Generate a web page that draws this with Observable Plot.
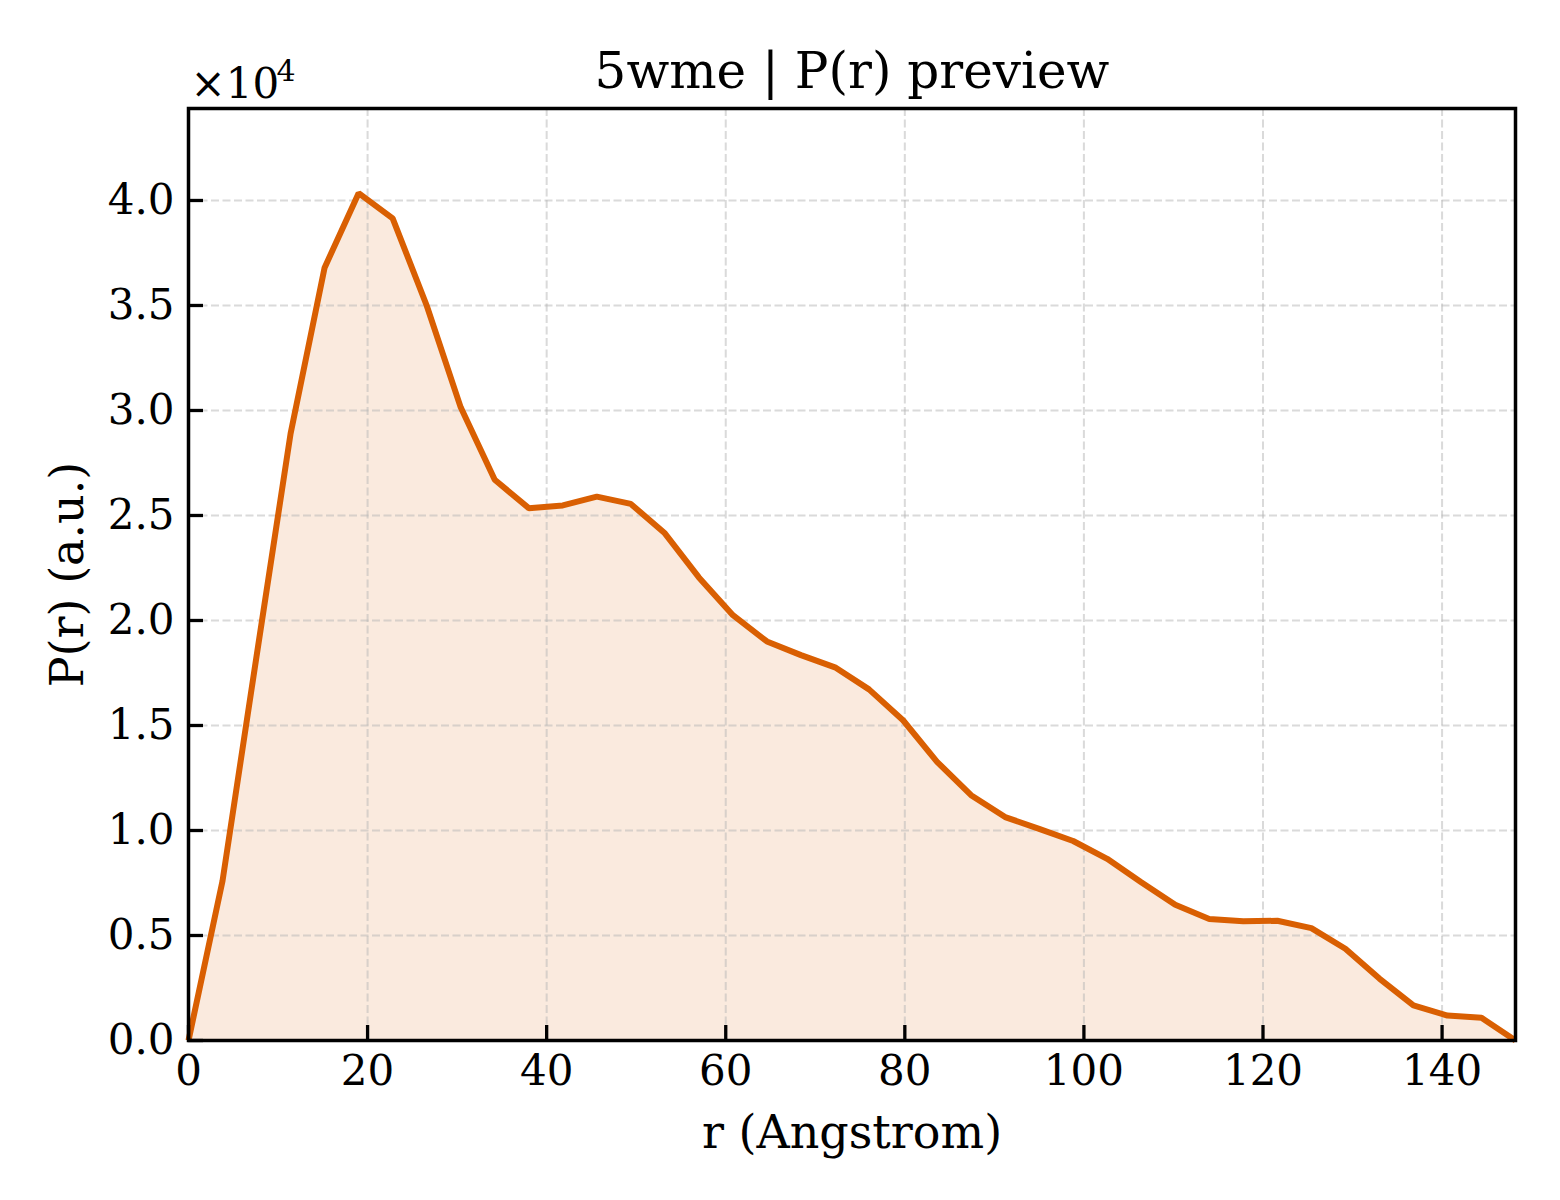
<!DOCTYPE html>
<html>
<head>
<meta charset="utf-8">
<script src="https://cdn.jsdelivr.net/npm/d3@7"></script>
<script src="https://cdn.jsdelivr.net/npm/@observablehq/plot@0.6"></script>
<style>
  html, body { margin: 0; padding: 0; background: white; }
  #chart svg { display: block; }
</style>
</head>
<body>
<div id="chart"></div>
<script>
// ---- data ----
const titleText = "5wme | P(r) preview";
const xLabel = "r (Angstrom)";
const yLabel = "P(r) (a.u.)";
const rValues = [0, 3.8, 7.6, 11.4, 15.2, 19.0, 22.8, 26.6, 30.4, 34.2, 38.0, 41.8, 45.6, 49.4, 53.2, 57.0, 60.8, 64.6, 68.4, 72.2, 76.0, 79.8, 83.6, 87.4, 91.2, 95.0, 98.8, 102.6, 106.4, 110.2, 114.0, 117.8, 121.6, 125.4, 129.2, 133.0, 136.8, 140.6, 144.4, 148.2];
const prValues = [0, 7600, 18300, 28900, 36800, 40350, 39150, 35000, 30150, 26700, 25350, 25480, 25900, 25550, 24150, 22050, 20250, 19000, 18350, 17770, 16720, 15250, 13270, 11680, 10640, 10080, 9500, 8650, 7540, 6460, 5790, 5680, 5700, 5350, 4370, 2950, 1670, 1190, 1080, 0];
const xTicks = [0, 20, 40, 60, 80, 100, 120, 140];
const yTicks = [0, 5000, 10000, 15000, 20000, 25000, 30000, 35000, 40000];
const xDomain = [0, 148.2];
const yDomain = [0, 44380];
const offsetBase = "×10";
const offsetExp = "4";

const data = rValues.map((r, i) => ({r, p: prValues[i]}));

const W = 1560, H = 1200;
const mL = 188, mR = 45, mT = 108, mB = 160;
const plotW = W - mL - mR, plotH = H - mT - mB;
const lineColor = "#D95F02";
const tickLen = 15;

const chart = Plot.plot({
  width: W,
  height: H,
  marginLeft: mL,
  marginRight: mR,
  marginTop: mT,
  marginBottom: mB,
  style: {fontFamily: "'DejaVu Serif', serif", fontSize: "42px", background: "white", color: "black"},
  x: {domain: xDomain, label: null},
  y: {domain: yDomain, label: null},
  marks: [
    Plot.areaY(data, {x: "r", y: "p", fill: lineColor, fillOpacity: 0.13}),
    Plot.gridX(xTicks, {stroke: "#b5b5b5", strokeOpacity: 0.5, strokeWidth: 2, strokeDasharray: "8,3.5"}),
    Plot.gridY(yTicks, {stroke: "#b5b5b5", strokeOpacity: 0.5, strokeWidth: 2, strokeDasharray: "8,3.5"}),
    Plot.lineY(data, {x: "r", y: "p", stroke: lineColor, strokeWidth: 6, strokeLinejoin: "miter", strokeLinecap: "butt"}),
    Plot.ruleX(xTicks, {stroke: "black", strokeWidth: 3.3, insetTop: plotH - tickLen}),
    Plot.ruleY(yTicks, {stroke: "black", strokeWidth: 3.3, insetRight: plotW - tickLen}),
    Plot.frame({stroke: "black", strokeWidth: 3.5}),
    Plot.axisX(xTicks, {tickSize: 0, tickPadding: 15, fontSize: 42, label: null}),
    Plot.axisY(yTicks, {tickSize: 0, tickPadding: 14, fontSize: 42, label: null, tickFormat: d => (d / 1e4).toFixed(1)}),
    Plot.text([titleText], {frameAnchor: "top", lineAnchor: "bottom", dy: -21, fontSize: 50}),
    Plot.text([xLabel], {frameAnchor: "bottom", lineAnchor: "middle", dy: 93, fontSize: 46}),
    Plot.text([yLabel], {frameAnchor: "left", textAnchor: "middle", lineAnchor: "middle", rotate: -90, dx: -120, fontSize: 46}),
    Plot.text([offsetBase], {frameAnchor: "top-left", textAnchor: "start", lineAnchor: "bottom", dx: 2, dy: -11, fontSize: 42}),
    Plot.text([offsetExp], {frameAnchor: "top-left", textAnchor: "start", lineAnchor: "bottom", dx: 88, dy: -28, fontSize: 30})
  ]
});

document.getElementById("chart").appendChild(chart);
</script>
</body>
</html>
